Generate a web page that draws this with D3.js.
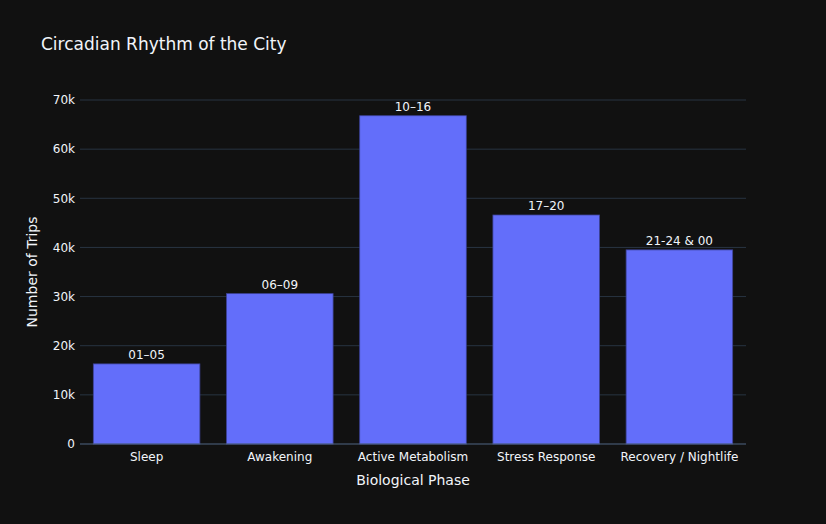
<!DOCTYPE html>
<html>
<head>
<meta charset="utf-8">
<script src="https://cdn.jsdelivr.net/npm/d3@7"></script>
<style>
  body { margin: 0; background: #111111; }
  text { font-family: "DejaVu Sans", "Open Sans", sans-serif; fill: #f2f5fa; }
</style>
</head>
<body>
<svg id="chart" width="826" height="524"></svg>
<script>
// Circadian rhythm - trips per biological phase
var phases = ["Sleep", "Awakening", "Active Metabolism", "Stress Response", "Recovery / Nightlife"];
var trips = [16300, 30600, 66800, 46600, 39500];
var hourLabels = ["01\u201305", "06\u201309", "10\u201316", "17\u201320", "21-24 & 00"];
var yTicks = [0, 10000, 20000, 30000, 40000, 50000, 60000, 70000];

var svg = d3.select("#chart");
var width = 826, height = 524;
var margin = {top: 100, right: 80, bottom: 80, left: 80};

svg.append("rect")
    .attr("width", width)
    .attr("height", height)
    .attr("fill", "#111111");

var xScale = d3.scaleBand()
    .domain(phases)
    .range([margin.left, width - margin.right])
    .paddingInner(0.2)
    .paddingOuter(0.1);

var yScale = d3.scaleLinear()
    .domain([0, 70000])
    .range([height - margin.bottom, margin.top]);

// gridlines
svg.append("g")
   .selectAll("line")
   .data(yTicks.slice(1))
   .enter()
   .append("line")
   .attr("x1", margin.left)
   .attr("x2", width - margin.right)
   .attr("y1", (d) => yScale(d))
   .attr("y2", (d) => yScale(d))
   .attr("stroke", "#283442")
   .attr("stroke-width", 1);

// y axis
var yAxis = d3.axisLeft(yScale)
    .tickValues(yTicks)
    .tickSize(0)
    .tickPadding(4)
    .tickFormat((d) => d === 0 ? "0" : (d / 1000) + "k");

svg.append("g")
   .attr("transform", "translate(" + (margin.left - 1) + ",0)")
   .call(yAxis)
   .call((g) => g.select(".domain").remove())
   .selectAll("text")
   .attr("font-size", 12)
   .attr("fill", "#f2f5fa");

// bars
svg.selectAll("rect.bar")
    .data(phases)
    .enter()
    .append("rect")
    .attr("class", "bar")
    .attr("x", (d) => xScale(d))
    .attr("y", (d, i) => yScale(trips[i]))
    .attr("width", xScale.bandwidth())
    .attr("height", (d, i) => yScale(0) - yScale(trips[i]))
    .attr("fill", "#636efa")
    .attr("stroke", "#3d4399")
    .attr("stroke-width", 0.8);

// bar labels
svg.selectAll("text.label")
    .data(phases)
    .enter()
    .append("text")
    .attr("class", "label")
    .attr("x", (d) => xScale(d) + xScale.bandwidth() / 2)
    .attr("y", (d, i) => yScale(trips[i]) - 5)
    .attr("text-anchor", "middle")
    .attr("font-size", 12)
    .text((d, i) => hourLabels[i]);

// zero line
svg.append("line")
   .attr("x1", margin.left)
   .attr("x2", width - margin.right)
   .attr("y1", yScale(0))
   .attr("y2", yScale(0))
   .attr("stroke", "#506784")
   .attr("stroke-width", 1);

// x axis
var xAxis = d3.axisBottom(xScale)
    .tickSize(0)
    .tickPadding(8);

svg.append("g")
   .attr("transform", "translate(0," + yScale(0) + ")")
   .call(xAxis)
   .call((g) => g.select(".domain").remove())
   .selectAll("text")
   .attr("font-size", 12)
   .attr("fill", "#f2f5fa");

// titles
svg.append("text")
   .attr("x", 41)
   .attr("y", 50)
   .attr("font-size", 17)
   .text("Circadian Rhythm of the City");

svg.append("text")
   .attr("x", (margin.left + width - margin.right) / 2)
   .attr("y", 485)
   .attr("text-anchor", "middle")
   .attr("font-size", 14)
   .text("Biological Phase");

svg.append("text")
   .attr("transform", "translate(37," + (margin.top + (height - margin.top - margin.bottom) / 2) + ") rotate(-90)")
   .attr("text-anchor", "middle")
   .attr("font-size", 14)
   .text("Number of Trips");
</script>
</body>
</html>
